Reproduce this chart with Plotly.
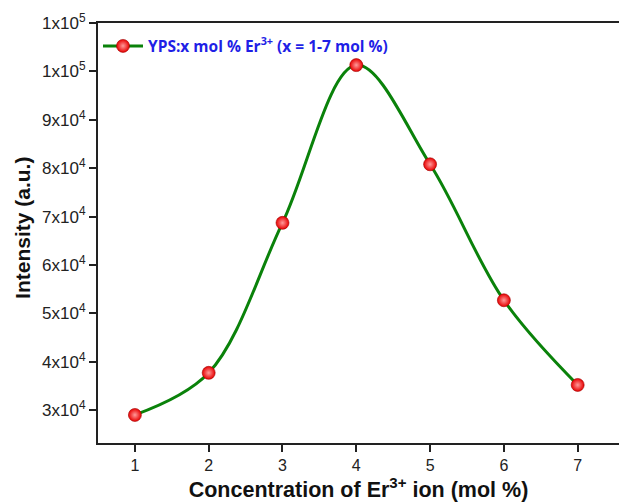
import plotly.graph_objects as go

x_conc = [1, 2, 3, 4, 5, 6, 7]
intensity = [29000, 37700, 68700, 101300, 80800, 52700, 35200]

ytick_vals = [30000, 40000, 50000, 60000, 70000, 80000, 90000, 100000, 110000]
ytick_text = ["3x10<sup>4</sup>", "4x10<sup>4</sup>", "5x10<sup>4</sup>", "6x10<sup>4</sup>",
              "7x10<sup>4</sup>", "8x10<sup>4</sup>", "9x10<sup>4</sup>", "1x10<sup>5</sup>",
              "1x10<sup>5</sup>"]
xtick_vals = [1, 2, 3, 4, 5, 6, 7]

series_name = "<b>YPS:x mol % Er<sup>3+</sup> (x = 1-7 mol %)</b>"

fig = go.Figure()
fig.add_trace(go.Scatter(
    x=x_conc, y=intensity, mode="lines+markers", name=series_name,
    line=dict(color="#0a820a", width=3, shape="spline", smoothing=1.0),
    marker=dict(size=13, color="#e80000",
                gradient=dict(type="radial", color="#ff9a9a"),
                line=dict(color="#a00000", width=0.6)),
))

fig.update_layout(
    width=619, height=502,
    margin=dict(l=98, r=0, t=23, b=59),
    paper_bgcolor="white", plot_bgcolor="white",
    showlegend=True,
    legend=dict(x=0.0, y=0.985, xanchor="left", yanchor="top",
                bgcolor="rgba(0,0,0,0)",
                font=dict(family="Open Sans", size=15.5, color="#1f1fe6"),
                itemwidth=40),
    font=dict(family="Liberation Sans, Arial", color="#222"),
    annotations=[dict(text="<b>Intensity (a.u.)</b>", xref="paper", yref="paper",
                      x=-0.144, y=0.512, xanchor="center", yanchor="middle",
                      textangle=-90, showarrow=False,
                      font=dict(family="Liberation Sans, Arial", size=21, color="#111"))],
)
fig.update_xaxes(
    range=[0.5, 7.56], tickvals=xtick_vals, automargin=False,
    showline=True, linecolor="#222", linewidth=2, mirror=True,
    ticks="outside", ticklen=7, tickwidth=1.5, tickcolor="#222",
    showgrid=False, zeroline=False,
    tickfont=dict(family="Liberation Sans, Arial", size=16, color="#222"),
    title=dict(text="<b>Concentration of Er<sup>3+</sup> ion (mol %)</b>",
               font=dict(family="Liberation Sans, Arial", size=21.5, color="#111"),
               standoff=2),
)
fig.update_yaxes(
    range=[23200, 110000], tickvals=ytick_vals, ticktext=ytick_text, automargin=False,
    showline=True, linecolor="#222", linewidth=2, mirror=False,
    ticks="outside", ticklen=7, tickwidth=1.5, tickcolor="#222",
    showgrid=False, zeroline=False,
    tickfont=dict(family="Liberation Sans, Arial", size=17, color="#222"),
)

fig.write_html("out.html", config={"displayModeBar": False},
               post_script="document.body.style.margin='0';document.body.style.overflow='hidden';")
